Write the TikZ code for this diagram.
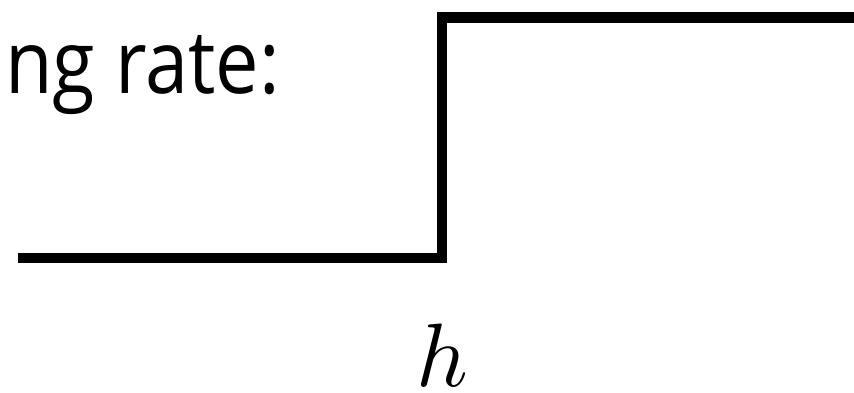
\documentclass[tikz,border=0pt]{standalone}
\usepackage{fontspec}
\setsansfont{Open Sans}
\begin{document}
\begin{tikzpicture}[x=1pt,y=-1pt,
  stepline/.style={line width=10.5pt, line join=miter, line cap=butt, black},
  lbl/.style={inner sep=0pt, outer sep=0pt, font=\sffamily\fontsize{88}{96}\selectfont}]
\useasboundingbox (0,0) rectangle (854,393);
\clip (0,0) rectangle (854,393);
\coordinate (s0) at (18,258);
\coordinate (s1) at (442,258);
\coordinate (s2) at (442,17.5);
\coordinate (s3) at (870,17.5);
\draw[stepline] (s0) -- (s1) -- (s2) -- (s3);
\node[lbl, anchor=base east] (title) at (280,94) {\scalebox{0.88}[1]{ng rate:}};
\node[inner sep=0pt, anchor=base] (h) at (442,386) {\scalebox{9}{$h$}};
\end{tikzpicture}
\end{document}
